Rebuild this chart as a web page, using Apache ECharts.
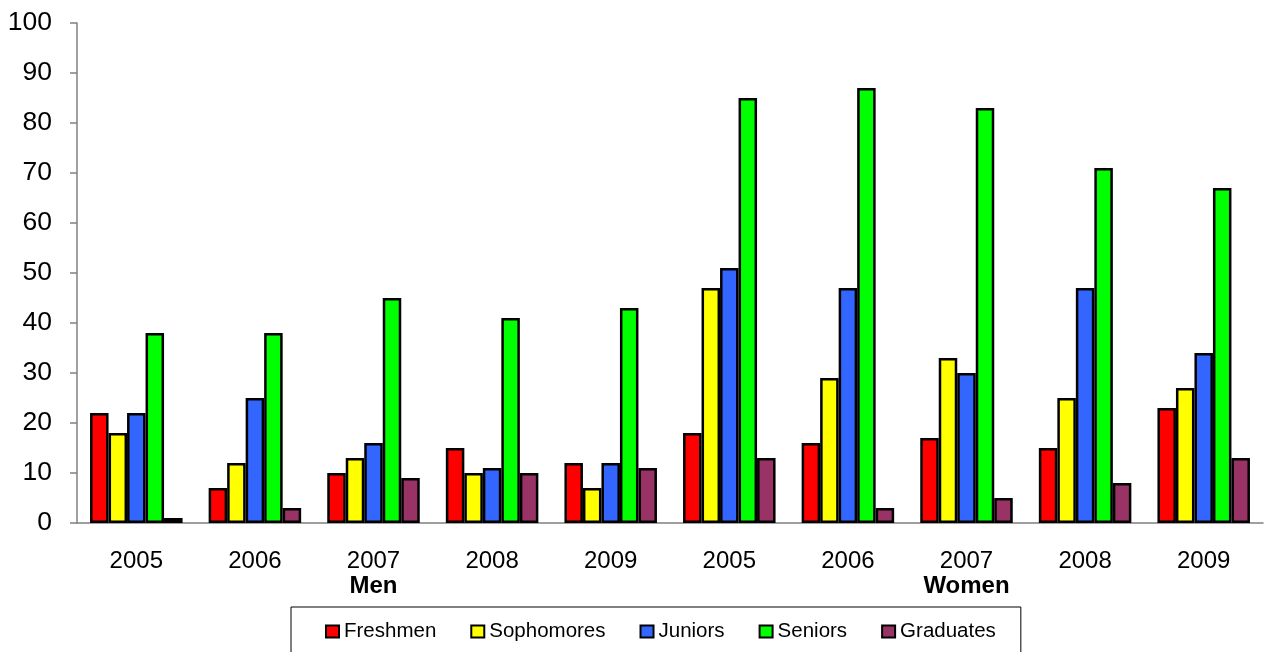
<!DOCTYPE html>
<html>
<head>
<meta charset="utf-8">
<script src="https://cdn.jsdelivr.net/npm/echarts@6/dist/echarts.min.js"></script>
<style>
html,body{margin:0;padding:0;background:#fff;}
#chart{width:1270px;height:652px;}
</style>
</head>
<body>
<div id="chart"></div>
<script>
const categories = ['2005','2006','2007','2008','2009','2005','2006','2007','2008','2009'];
const groupLabels = ['', '', 'Men', '', '', '', '', 'Women', '', ''];
const seriesNames = ['Freshmen','Sophomores','Juniors','Seniors','Graduates'];
const freshmen   = [22, 7, 10, 15, 12, 18, 16, 17, 15, 23];
const sophomores = [18, 12, 13, 10, 7, 47, 29, 33, 25, 27];
const juniors    = [22, 25, 16, 11, 12, 51, 47, 30, 47, 34];
const seniors    = [38, 38, 45, 41, 43, 85, 87, 83, 71, 67];
const graduates  = [1, 3, 9, 10, 11, 13, 3, 5, 8, 13];
const colors = ['#FF0000','#FFFF00','#3366FF','#00FF00','#993366'];
const allData = [freshmen, sophomores, juniors, seniors, graduates];

const FONT = '"Liberation Sans", Arial, sans-serif';
const chart = echarts.init(document.getElementById('chart'), null, {renderer:'canvas'});
chart.setOption({
  animation: false,
  backgroundColor: '#fff',
  grid: {left: 77, right: 7, top: 23, bottom: 129, containLabel: false},
  legend: {
    left: 291, top: 607,
    padding: [14, 25, 20, 34],
    borderColor: '#000', borderWidth: 1,
    itemGap: 34, itemWidth: 13, itemHeight: 12,
    icon: 'rect',
    itemStyle: {borderColor: '#000', borderWidth: 2},
    textStyle: {fontFamily: FONT, fontSize: 20.5, color: '#000'},
    data: seriesNames
  },
  xAxis: {
    type: 'category',
    data: categories,
    axisLine: {lineStyle: {color: '#808080', width: 1.5}},
    axisTick: {length: 6, lineStyle: {color: '#808080', width: 1.5}},
    axisLabel: {
      margin: 26,
      interval: 0,
      fontFamily: FONT, fontSize: 24, color: '#000', lineHeight: 25,
      formatter: function (v, i) {
        return groupLabels[i] ? v + '\n{b|' + groupLabels[i] + '}' : v;
      },
      rich: {b: {fontFamily: FONT, fontSize: 24, fontWeight: 'bold', color: '#000', lineHeight: 25}}
    }
  },
  yAxis: {
    type: 'value', min: 0, max: 100, interval: 10,
    axisLine: {show: true, lineStyle: {color: '#808080', width: 1.5}},
    axisTick: {show: true, length: 7, lineStyle: {color: '#808080', width: 1.5}},
    splitLine: {show: false},
    axisLabel: {margin: 25, fontFamily: FONT, fontSize: 26.5, color: '#000'}
  },
  series: seriesNames.map((n, k) => ({
    name: n, type: 'bar', data: allData[k],
    barGap: '0%', barCategoryGap: '22%',
    itemStyle: {color: colors[k], borderColor: '#000', borderWidth: 2.5}
  }))
});
</script>
</body>
</html>
